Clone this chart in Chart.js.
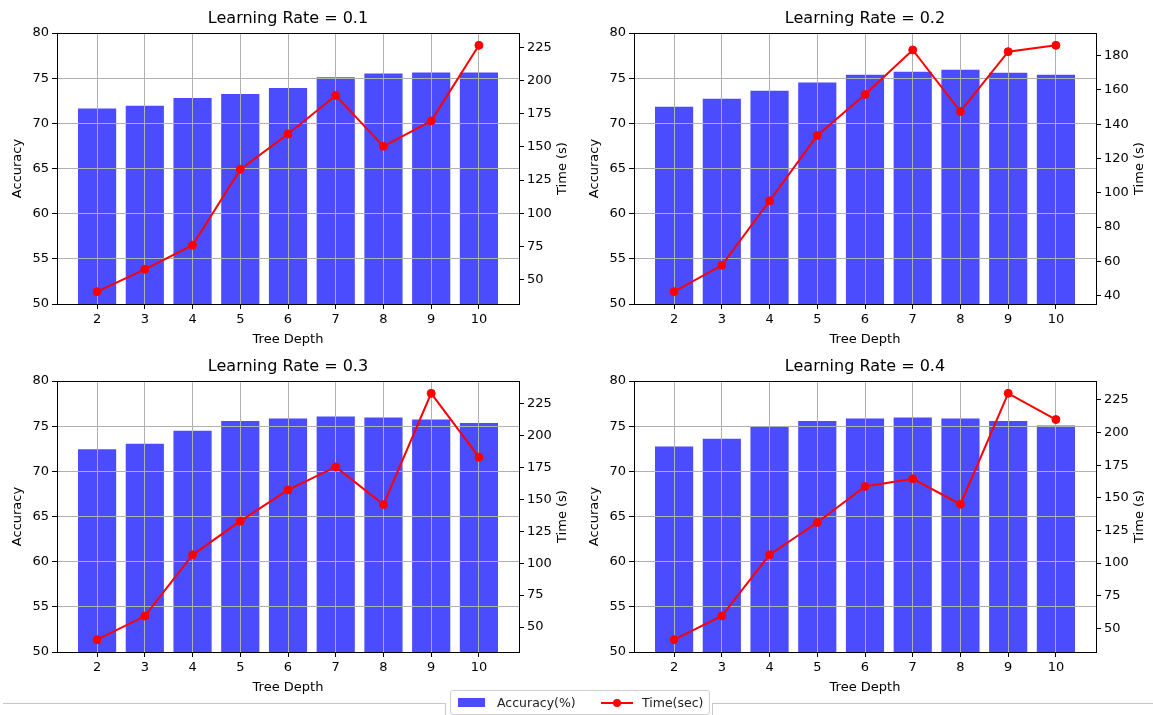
<!DOCTYPE html>
<html>
<head>
<meta charset="utf-8">
<title>Learning rate vs tree depth</title>
<script src="https://cdn.jsdelivr.net/npm/chart.js@4.4.1/dist/chart.umd.min.js"></script>
<style>
  body { margin: 0; background: #fff; width: 1153px; height: 715px; overflow: hidden; position: relative;
         font-family: "DejaVu Sans", sans-serif; }
  canvas { position: absolute; }
  #c1 { left: 0; top: 0; }
  #c2 { left: 577px; top: 0; }
  #c3 { left: 0; top: 348px; }
  #c4 { left: 577px; top: 348px; }
  .rule { position: absolute; top: 703px; height: 14px; border-top: 1px solid #c8c8c8; }
  #ruleL { left: 3px; width: 442px; border-right: 1px solid #c8c8c8; }
  #ruleR { left: 712px; width: 440px; border-left: 1px solid #c8c8c8; }
  #legend { position: absolute; left: 450px; top: 690px; width: 258px; height: 23px; background: #fff;
            border: 1px solid #d0d0d0; border-radius: 3px; font-size: 12.5px; color: #222; }
  #legend .item { position: absolute; top: 0; height: 23px; line-height: 23px; white-space: nowrap; }
  #legend .patch { position: absolute; left: 7px; top: 7px; width: 27px; height: 9px; background: rgba(0,0,255,0.7); }
  #legend .lineKey { position: absolute; left: 150px; top: 11px; width: 32px; height: 2px; background: red; }
  #legend .dot { position: absolute; left: 12px; top: -3px; width: 8px; height: 8px; border-radius: 50%; background: red; }
</style>
</head>
<body>
<canvas id="c1" width="576" height="350"></canvas>
<canvas id="c2" width="576" height="350"></canvas>
<canvas id="c3" width="576" height="350"></canvas>
<canvas id="c4" width="576" height="350"></canvas>
<div class="rule" id="ruleL"></div>
<div class="rule" id="ruleR"></div>
<div id="legend"></div>
<script>
// Tree depths on the x axis and the learning rate of each panel
const depths = [2, 3, 4, 5, 6, 7, 8, 9, 10];
const learningRates = ['0.1', '0.2', '0.3', '0.4'];

// Accuracy (%) per depth
const accLr01 = [71.65, 71.95, 72.80, 73.24, 73.90, 75.09, 75.53, 75.64, 75.64];
const accLr02 = [71.83, 72.72, 73.61, 74.53, 75.38, 75.71, 75.94, 75.60, 75.38];
const accLr03 = [72.45, 73.05, 74.49, 75.56, 75.86, 76.08, 75.97, 75.75, 75.34];
const accLr04 = [72.75, 73.60, 74.93, 75.56, 75.86, 75.97, 75.86, 75.56, 75.08];

// Training time (s) per depth
const timeLr01 = [40.7, 57.6, 75.8, 133.1, 159.8, 188.9, 150.5, 169.7, 226.8];
const timeLr02 = [42.3, 57.7, 95.3, 133.4, 157.3, 183.3, 147.4, 182.3, 186.0];
const timeLr03 = [40.1, 58.6, 106.5, 132.9, 157.3, 175.3, 145.8, 232.9, 182.9];
const timeLr04 = [41.3, 59.5, 106.4, 131.1, 158.7, 164.6, 145.1, 230.1, 210.0];

// Right axis tick spacing per panel
const timeSteps = [25, 20, 25, 25];

const accLabel = 'Accuracy(%)';
const timeLabel = 'Time(sec)';

Chart.defaults.font.family = '"DejaVu Sans", sans-serif';
Chart.defaults.color = '#000';

// matplotlib-like 5% margin around the data range
function padRange(lo, hi) {
    const m = 0.05 * (hi - lo);
    return [lo - m, hi + m];
}

// Grid goes over the bars but under the time line: the line dataset (index 0)
// is skipped in the normal pass and drawn again once everything else is done.
// Also draws the top spine and a bottom-to-top title for the right axis.
const framePlugin = {
    id: 'frame',
    beforeDatasetDraw(chart, args) {
        if (args.index === 0) return false;
    },
    afterDraw(chart, args, opts) {
        const { ctx, chartArea } = chart;
        chart.getDatasetMeta(0).controller.draw();

        ctx.save();
        ctx.strokeStyle = '#000';
        ctx.lineWidth = 1;
        ctx.beginPath();
        ctx.moveTo(chartArea.left, chartArea.top + 0.5);
        ctx.lineTo(chartArea.right, chartArea.top + 0.5);
        ctx.stroke();

        const s = chart.scales.y1;
        ctx.translate(s.right - opts.offset, (chartArea.top + chartArea.bottom) / 2);
        ctx.rotate(-Math.PI / 2);
        ctx.font = '13px "DejaVu Sans"';
        ctx.fillStyle = '#000';
        ctx.textAlign = 'center';
        ctx.textBaseline = 'middle';
        ctx.fillText(opts.text, 0, 0);
        ctx.restore();
    }
};

function buildPanel(id, lr, acc, time, step) {
    const [tMin, tMax] = padRange(Math.min(...time), Math.max(...time));
    const [xMin, xMax] = padRange(depths[0] - 0.4, depths[depths.length - 1] + 0.4);

    // grid layer above the datasets, spine after the grid
    const gridStyle = { color: '#b0b0b0', lineWidth: 1, tickColor: '#000', tickLength: 5, offset: false, z: 1 };
    const spine = { color: '#000', width: 1, z: 2 };

    new Chart(document.getElementById(id), {
        data: {
            datasets: [
                {
                    type: 'line',
                    label: timeLabel,
                    data: depths.map((d, i) => ({ x: d, y: time[i] })),
                    yAxisID: 'y1',
                    borderColor: 'red',
                    backgroundColor: 'red',
                    borderWidth: 2,
                    pointRadius: 4,
                    pointBorderWidth: 1,
                    tension: 0,
                    order: 0
                },
                {
                    type: 'bar',
                    label: accLabel,
                    data: depths.map((d, i) => ({ x: d, y: acc[i] })),
                    yAxisID: 'y',
                    backgroundColor: 'rgba(0, 0, 255, 0.7)',
                    barPercentage: 1,
                    categoryPercentage: 0.8,
                    order: 1
                }
            ]
        },
        options: {
            responsive: false,
            animation: false,
            events: [],
            devicePixelRatio: 1,
            layout: { padding: 0 },
            scales: {
                x: {
                    type: 'linear',
                    min: xMin,
                    max: xMax,
                    offset: false,
                    afterBuildTicks: s => { s.ticks = depths.map(v => ({ value: v })); },
                    afterFit: s => { s.height = 46; },
                    grid: gridStyle,
                    border: spine,
                    ticks: { font: { size: 13 }, padding: 3, maxRotation: 0, autoSkip: false },
                    title: { display: true, text: 'Tree Depth', font: { size: 13 }, padding: { top: 0, bottom: 3 } }
                },
                y: {
                    position: 'left',
                    min: 50,
                    max: 80,
                    afterFit: s => { s.width = 57; },
                    grid: gridStyle,
                    border: spine,
                    ticks: { stepSize: 5, font: { size: 13 }, padding: 3 },
                    title: { display: true, text: 'Accuracy', font: { size: 13 }, padding: { top: 10, bottom: 0 } }
                },
                y1: {
                    position: 'right',
                    min: tMin,
                    max: tMax,
                    afterFit: s => { s.width = 57; },
                    grid: { drawOnChartArea: false, tickColor: '#000', tickLength: 5 },
                    border: { color: '#000', width: 1 },
                    ticks: { stepSize: step, includeBounds: false, font: { size: 13 }, padding: 3 }
                }
            },
            plugins: {
                legend: { display: false },
                tooltip: { enabled: false },
                title: {
                    display: true,
                    text: 'Learning Rate = ' + lr,
                    color: '#000',
                    font: { size: 16, weight: 'normal' },
                    padding: { top: 9, bottom: 4.8 }
                },
                frame: { text: 'Time (s)', offset: 13 }
            }
        },
        plugins: [framePlugin]
    });
}

buildPanel('c1', learningRates[0], accLr01, timeLr01, timeSteps[0]);
buildPanel('c2', learningRates[1], accLr02, timeLr02, timeSteps[1]);
buildPanel('c3', learningRates[2], accLr03, timeLr03, timeSteps[2]);
buildPanel('c4', learningRates[3], accLr04, timeLr04, timeSteps[3]);

// Shared legend under the panels
const legend = document.getElementById('legend');
legend.innerHTML =
    '<span class="patch"></span>' +
    '<span class="item" style="left:46px">' + accLabel + '</span>' +
    '<span class="lineKey"><span class="dot"></span></span>' +
    '<span class="item" style="left:191px">' + timeLabel + '</span>';
</script>
</body>
</html>
